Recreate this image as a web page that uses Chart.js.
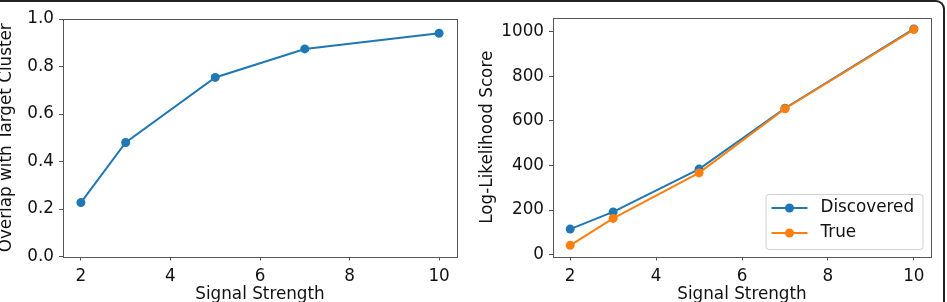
<!DOCTYPE html>
<html>
<head>
<meta charset="utf-8">
<script src="https://cdn.jsdelivr.net/npm/chart.js@4"></script>
<style>
  html, body { margin: 0; padding: 0; background: #fff; }
  body { width: 947px; height: 302px; overflow: hidden; position: relative; }
  canvas { position: absolute; top: 0; }
  #frame {
    position: absolute; left: -10px; top: 0; width: 955px; height: 400px;
    box-sizing: border-box; border-top: 2px solid #222; border-right: 2px solid #222;
    border-top-right-radius: 9px;
  }
</style>
</head>
<body>
<div id="frame"></div>
<canvas id="overlapChart" width="470" height="302" style="left:0"></canvas>
<canvas id="scoreChart" width="477" height="302" style="left:470px"></canvas>
<script>
const signal = [2, 3, 5, 7, 10];
const overlap = [0.227, 0.48, 0.754, 0.874, 0.94];
const discovered = [115, 192, 384, 657, 1013];
const trueScore = [42, 163, 367, 655, 1010];

const xTicks = [2, 4, 6, 8, 10];
const overlapTicks = [0, 0.2, 0.4, 0.6, 0.8, 1.0];
const scoreTicks = [0, 200, 400, 600, 800, 1000];

const BLUE = '#1f77b4';
const ORANGE = '#ff7f0e';
const FONT = { family: 'DejaVu Sans', size: 16.8 };
const INK = '#111';
const SPINE = '#555';

const toPoints = ys => signal.map((x, i) => ({ x: x, y: ys[i] }));

// matplotlib style box around the plotting area
const spines = {
    id: 'spines',
    afterDraw(chart) {
        const a = chart.chartArea;
        const ctx = chart.ctx;
        ctx.save();
        ctx.strokeStyle = SPINE;
        ctx.lineWidth = 1;
        ctx.strokeRect(Math.round(a.left) + 0.5, Math.round(a.top) + 0.5,
            Math.round(a.right - a.left), Math.round(a.bottom - a.top));
        ctx.restore();
    }
};

// legend in lower right corner, inside the axes
const innerLegend = {
    id: 'innerLegend',
    afterDraw(chart) {
        const a = chart.chartArea;
        const ctx = chart.ctx;
        const w = 157, h = 55;
        const x0 = a.right - 8.5 - w, y0 = a.bottom - 7.5 - h;
        ctx.save();
        ctx.beginPath();
        ctx.roundRect(x0 + 0.5, y0 + 0.5, w, h, 3);
        ctx.fillStyle = 'rgba(255,255,255,0.8)';
        ctx.fill();
        ctx.strokeStyle = '#d0d0d0';
        ctx.lineWidth = 1;
        ctx.stroke();
        ctx.font = FONT.size + 'px "' + FONT.family + '"';
        ctx.textBaseline = 'middle';
        chart.data.datasets.forEach((ds, i) => {
            const y = y0 + 14 + i * 25;
            ctx.strokeStyle = ds.borderColor;
            ctx.lineWidth = 2;
            ctx.beginPath();
            ctx.moveTo(x0 + 6, y);
            ctx.lineTo(x0 + 42, y);
            ctx.stroke();
            ctx.fillStyle = ds.backgroundColor;
            ctx.beginPath();
            ctx.arc(x0 + 24, y, 4.5, 0, Math.PI * 2);
            ctx.fill();
            ctx.fillStyle = INK;
            ctx.fillText(ds.label, x0 + 55, y);
        });
        ctx.restore();
    }
};

function xScale() {
    return {
        type: 'linear',
        min: 1.6,
        max: 10.4,
        afterBuildTicks: s => { s.ticks = xTicks.map(v => ({ value: v })); },
        afterFit: s => { s.height = 45.5; },
        grid: { drawOnChartArea: false, drawTicks: true, tickLength: 4, color: SPINE },
        border: { display: false },
        ticks: { font: FONT, color: INK, padding: 6, autoSkip: false, maxRotation: 0 },
        title: { display: true, text: 'Signal Strength', font: FONT, color: INK, padding: { top: 0, bottom: -3 } }
    };
}

function yScale(min, max, ticks, fmt, width, title, titlePad) {
    return {
        type: 'linear',
        min: min,
        max: max,
        afterBuildTicks: s => { s.ticks = ticks.map(v => ({ value: v })); },
        afterFit: s => { s.width = width; },
        grid: { drawOnChartArea: false, drawTicks: true, tickLength: 4, color: SPINE },
        border: { display: false },
        ticks: { font: FONT, color: INK, padding: 5, autoSkip: false, callback: fmt },
        title: { display: true, text: title, font: FONT, color: INK, padding: { top: titlePad, bottom: 0 } }
    };
}

function lineSet(label, ys, color, order) {
    return {
        label: label,
        data: toPoints(ys),
        borderColor: color,
        backgroundColor: color,
        borderWidth: 2,
        pointRadius: 4.5,
        pointBorderWidth: 0,
        pointHoverRadius: 4.5,
        tension: 0,
        order: order
    };
}

const common = {
    responsive: false,
    animation: false,
    events: [],
    plugins: { legend: { display: false }, tooltip: { enabled: false } }
};

new Chart(document.getElementById('overlapChart').getContext('2d'), {
    type: 'line',
    data: { datasets: [lineSet('Overlap', overlap, BLUE, 0)] },
    options: Object.assign({}, common, {
        layout: { padding: { left: 0, top: 19, right: 13, bottom: 0 } },
        scales: {
            x: xScale(),
            y: yScale(0, 1, overlapTicks, v => v.toFixed(1), 63, 'Overlap with Target Cluster', -3)
        }
    }),
    plugins: [spines]
});

new Chart(document.getElementById('scoreChart').getContext('2d'), {
    type: 'line',
    data: {
        datasets: [
            lineSet('Discovered', discovered, BLUE, 1),
            lineSet('True', trueScore, ORANGE, 0)
        ]
    },
    options: Object.assign({}, common, {
        layout: { padding: { left: 0, top: 18, right: 16, bottom: 0 } },
        scales: {
            x: xScale(),
            y: yScale(-8, 1062, scoreTicks, v => String(v), 83, 'Log-Likelihood Score', 8)
        }
    }),
    plugins: [spines, innerLegend]
});
</script>
</body>
</html>
